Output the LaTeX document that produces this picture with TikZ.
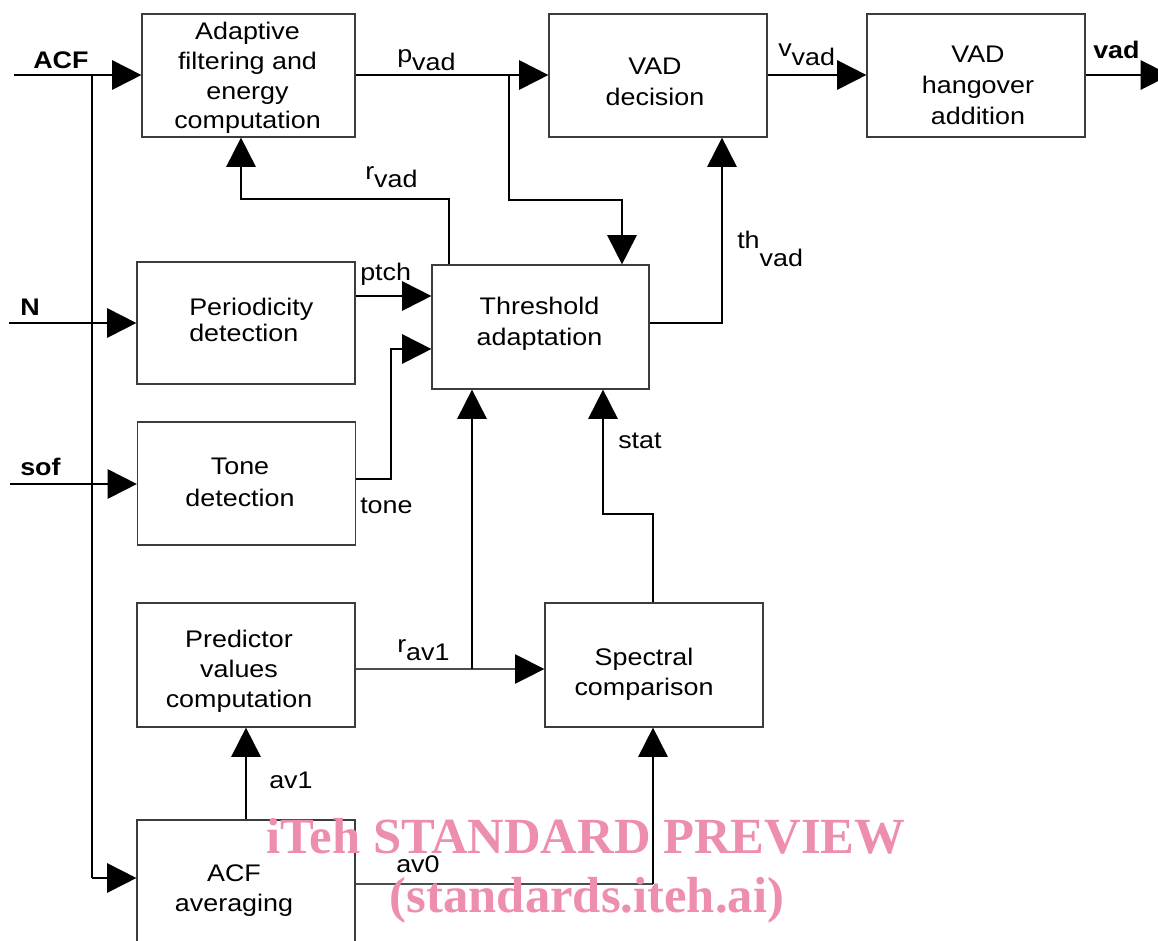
\documentclass[tikz,border=0pt]{standalone}
\usepackage{fontspec}
\setmainfont{Liberation Sans}[FakeStretch=1.12]
\newfontfamily\wmfont{Liberation Serif}
\usetikzlibrary{arrows.meta,calc}
\definecolor{wmpink}{RGB}{236,142,172}
\definecolor{boxgray}{RGB}{60,60,60}
\begin{document}
\begin{tikzpicture}[x=0.75pt,y=-0.75pt,
  font=\fontsize{18}{22.5}\selectfont,
  blk/.style={draw=boxgray,line width=0.9pt,inner sep=0pt},
  btxt/.style={align=center,inner sep=0pt,anchor=center},
  conn/.style={line width=1.5pt,draw=black},
  thinconn/.style={line width=0.8pt,draw=black!70},
  tipT/.tip={Triangle[length=22pt,width=22pt,color=black]},
  arr/.style={conn,-tipT},
  thinarr/.style={thinconn,-tipT},
  lab/.style={anchor=base west,inner sep=0pt},
  blab/.style={anchor=base west,inner sep=0pt,font=\fontsize{18}{22.5}\selectfont\bfseries},
  wm/.style={anchor=base,inner sep=0pt,text=wmpink,font=\wmfont\bfseries\fontsize{38}{40}\selectfont}]
\useasboundingbox (0,0) rectangle (1158,940);

% boxes
\node[blk,minimum width=159.75pt,minimum height=92.25pt] (adapt) at (248.5,75.5) {};
\node[blk,minimum width=163.5pt,minimum height=92.25pt] (vaddec) at (658,75.5) {};
\node[blk,minimum width=163.5pt,minimum height=92.25pt] (hang) at (976,75.5) {};
\node[blk,minimum width=163.5pt,minimum height=91.5pt] (period) at (246,323) {};
\node[blk,minimum width=162.75pt,minimum height=93pt] (thresh) at (540.5,327) {};
\node[blk,minimum width=163.5pt,minimum height=92.25pt] (tonebox) at (246.5,483.5) {};
\node[blk,minimum width=163.5pt,minimum height=93pt] (pred) at (246,665) {};
\node[blk,minimum width=163.5pt,minimum height=93pt] (spec) at (654,665) {};
\node[blk,minimum width=163.5pt,minimum height=105pt] (acfavg) at (246,890) {};

% box texts
\node[btxt,font=\fontsize{18}{22.25}\selectfont] (adapt-t) at (247.5,78) {Adaptive\\filtering and\\energy\\computation};
\node[btxt,font=\fontsize{18}{23}\selectfont] (vaddec-t) at (655,82) {VAD\\decision};
\node[btxt,font=\fontsize{18}{23}\selectfont] (hang-t) at (978,85.5) {VAD\\hangover\\addition};
\node[align=left,inner sep=0pt,anchor=west,font=\fontsize{18}{20}\selectfont] (period-t) at (189,320) {Periodicity\\detection};
\node[btxt,font=\fontsize{18}{23}\selectfont] (thresh-t) at (539.5,323.5) {Threshold\\adaptation};
\node[btxt,font=\fontsize{18}{24}\selectfont] (tone-t) at (240,482.5) {Tone\\detection};
\node[btxt] (pred-t) at (239,671) {Predictor\\values\\computation};
\node[btxt] (spec-t) at (644,674) {Spectral\\comparison};
\node[btxt] (acfavg-t) at (234,890.5) {ACF\\averaging};

% helper coordinates
\coordinate (acfin) at (14,75);
\coordinate (bustop) at (92,75);
\coordinate (busbot) at (92,878);
\coordinate (nin) at (9,323);
\coordinate (sofin) at (10,484);
\coordinate (pbr) at (509,75);
\coordinate (pc1) at (509,200);
\coordinate (pc2) at (622,200);
\coordinate (rc1) at (449,199);
\coordinate (rc2) at (241,199);
\coordinate (thc) at (722,323);
\coordinate (vadout) at (1170,75);
\coordinate (pty) at (0,296);
\coordinate (tc1) at (391,479);
\coordinate (tc2) at (391,349);
\coordinate (rj) at (472,669);
\coordinate (sc1) at (653,514);
\coordinate (sc2) at (603,514);
\coordinate (a0) at (653,884);

% inputs and bus
\draw[arr] (acfin) -- (acfin -| adapt.west);
\draw[conn] (bustop) -- (busbot);
\draw[arr] (busbot) -- (busbot -| acfavg.west);
\draw[arr] (nin) -- (nin -| period.west);
\draw[arr] (sofin) -- (sofin -| tonebox.west);

% top chain
\draw[arr] (pbr -| adapt.east) -- (pbr -| vaddec.west);
\draw[arr] (pbr) -- (pc1) -- (pc2) -- (pc2 |- thresh.north);
\draw[arr] (rc1 |- thresh.north) -- (rc1) -- (rc2) -- (rc2 |- adapt.south);
\draw[arr] (thc -| thresh.east) -- (thc) -- (thc |- vaddec.south);
\draw[arr] (vaddec.east |- pbr) -- (hang.west |- pbr);
\draw[arr] (hang.east |- vadout) -- (vadout);

% middle
\draw[arr] (period.east |- pty) -- (thresh.west |- pty);
\draw[arr] (tonebox.east |- tc1) -- (tc1) -- (tc2) -- (tc2 -| thresh.west);

% bottom
\draw[thinarr] (pred.east |- rj) -- (spec.west |- rj);
\draw[arr] (rj) -- (rj |- thresh.south);
\draw[arr] (sc1 |- spec.north) -- (sc1) -- (sc2) -- (sc2 |- thresh.south);
\draw[arr] (acfavg.north) -- (pred.south);
\draw[thinconn] (acfavg.east |- a0) -- (a0);
\draw[arr] (a0) -- (a0 |- spec.south);

% labels
\node[blab] (lacf) at (33,68) {ACF};
\node[blab] (ln) at (20,315) {N};
\node[blab] (lsof) at (20,475) {sof};
\node[blab] (lvad) at (1093,58) {vad};
\node[lab] (lpvad) at (397,62) {p\raisebox{-6pt}{vad}};
\node[lab] (lrvad) at (365,179) {r\raisebox{-6pt}{vad}};
\node[lab] (lvvad) at (778,56) {v\raisebox{-7pt}{vad}};
\node[lab] (lthvad) at (737,248) {th\raisebox{-14pt}{vad}};
\node[lab] (lrav) at (397,652) {r\raisebox{-6.5pt}{av1}};
\node[lab] (lptch) at (360,280) {ptch};
\node[lab] (ltone) at (360,513) {tone};
\node[lab] (lstat) at (618,448) {stat};
\node[lab] (lav1) at (269,788) {av1};
\node[lab] (lav0) at (396,872) {av0};

% watermark
\node[wm] (wm1) at (586,853) {iTeh STANDARD PREVIEW};
\node[wm] (wm2) at (587,912) {(standards.iteh.ai)};
\end{tikzpicture}
\end{document}
